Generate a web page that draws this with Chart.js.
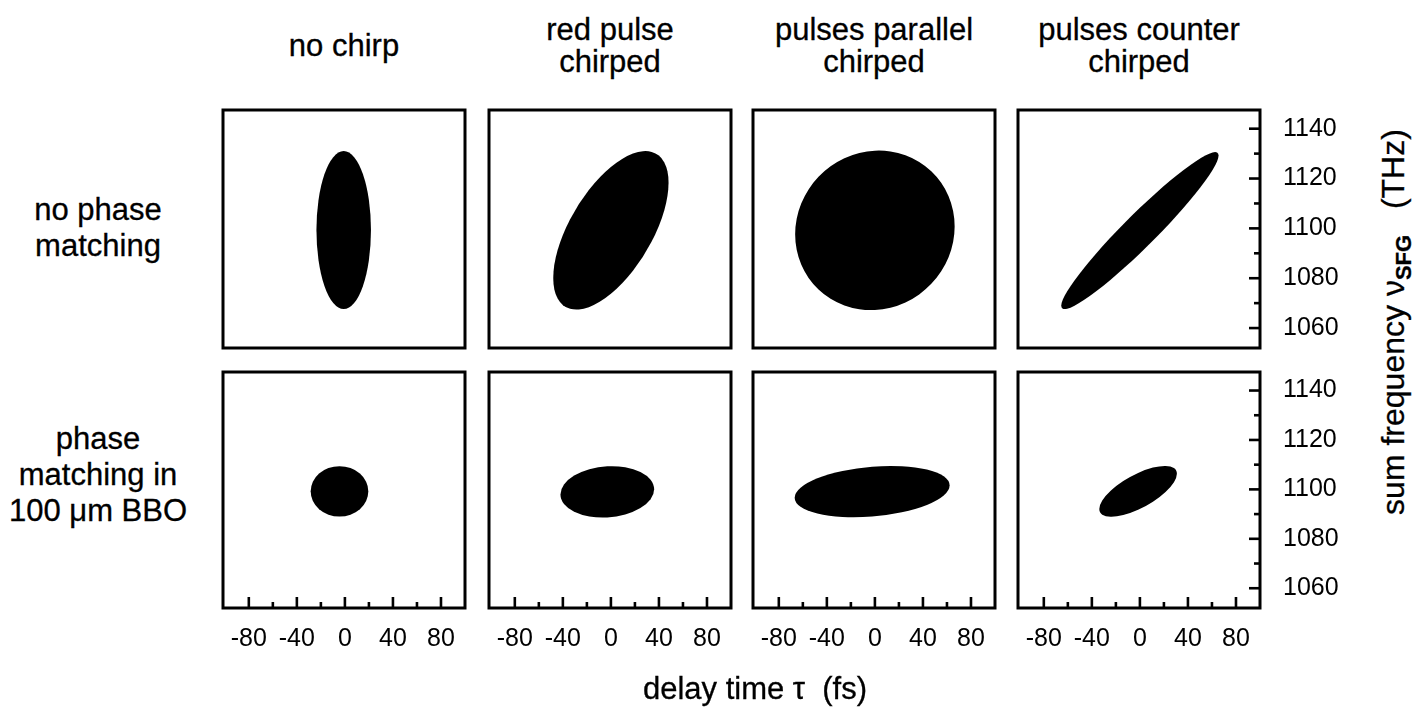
<!DOCTYPE html>
<html>
<head>
<meta charset="utf-8">
<script src="https://cdn.jsdelivr.net/npm/chart.js@4.4.1/dist/chart.umd.min.js"></script>
<style>
  html, body { margin: 0; padding: 0; background: #fff; }
  body { width: 1428px; height: 713px; position: relative; overflow: hidden;
         font-family: "Liberation Sans", Arial, Helvetica, sans-serif; color: #000; }
  canvas.panel { position: absolute; }
  .lbl { position: absolute; text-align: center; white-space: nowrap; -webkit-text-stroke: 0.3px #000; }
  .coltitle { font-size: 31px; line-height: 32px; height: 64px; width: 300px;
              display: flex; flex-direction: column; justify-content: center; }
  .rowtitle { font-size: 31px; line-height: 36px; width: 200px; }
  .axtitle { font-size: 31px; line-height: 36px; }
  .ytitle { font-size: 32px; }
  .ytitle sub { font-size: 22px; font-weight: bold; vertical-align: -7px; line-height: 0; padding-right: 8px; }
</style>
</head>
<body>
<script>
// ---- axes ----
const delayRange = [-101.5, 100];          // delay time tau (fs)
const freqRange = [1052, 1147.5];          // sum frequency (THz)
const delayLabels = [-80, -40, 0, 40, 80];
const freqLabels = [1060, 1080, 1100, 1120, 1140];
const delayStep = 20;
const freqStep = 10;

// ---- panel titles ----
const columnTitles = [['no chirp'], ['red pulse', 'chirped'], ['pulses parallel', 'chirped'], ['pulses counter', 'chirped']];
const rowTitles = [['no phase', 'matching'], ['phase', 'matching in', '100 \u03bcm BBO']];
const delayTitle = 'delay time \u03c4\u00a0\u00a0(fs)';

// ---- SFG signal contours: one row per phase-matching case, one column per chirp case ----
const centerDelay = [[-1.0, 0.0, 0.0, 0.0], [-4.5, -3.0, -2.3, -1.5]];
const centerFreq = [[1099.3, 1099.2, 1099.2, 1099.1], [1099.2, 1099.0, 1099.1, 1099.2]];
const halfDelay = [[22.7, 48.0, 66.4, 65.5], [24.0, 39.0, 64.5, 32.3]];
const halfFreq = [[31.7, 31.8, 32.0, 31.5], [10.2, 10.4, 10.4, 10.3]];
const correlation = [[0.0, 0.6, 0.05, 0.957], [0.0, 0.1, 0.24, 0.69]];

// ---- page layout ----
const colLeft = [223, 489, 753, 1018];
const boxW = 242;
const rowTop = [110, 372];
const boxH = [238, 236];
const pad = 4;
const xAxisH = 60;
const yAxisW = 90;
const font = '"Liberation Sans", Arial, Helvetica, sans-serif';

// filled contour drawn through the chart's own scales
const contourPlugin = {
  id: 'sfgContour',
  afterDatasetsDraw(chart) {
    const { ctx, scales: { x, y } } = chart;
    chart.data.datasets.forEach(ds => {
      const c = ds.contour;
      const px = x.getPixelForValue(c.delay);
      const py = y.getPixelForValue(c.freq);
      const ax = x.getPixelForValue(c.delay + c.halfDelay) - px;
      const ay = y.getPixelForValue(c.freq + c.halfFreq) - py;
      const r = c.corr, s = Math.sqrt(1 - r * r);
      ctx.save();
      ctx.transform(ax, ay * r, 0, ay * s, px, py);
      ctx.beginPath();
      ctx.arc(0, 0, 1, 0, Math.PI * 2);
      ctx.restore();
      ctx.save();
      ctx.fillStyle = '#000';
      ctx.fill();
      ctx.restore();
    });
  }
};

// frame and inward tick marks
const framePlugin = {
  id: 'sfgFrame',
  afterDraw(chart, args, opts) {
    const { ctx, chartArea: a, scales: { x, y } } = chart;
    ctx.save();
    ctx.strokeStyle = '#000';
    ctx.lineWidth = 2.6;
    ctx.lineCap = 'butt';
    if (opts.xMarks) {
      x.ticks.forEach(t => {
        if (t.value <= delayRange[0] + 2 || t.value >= delayRange[1] - 2) return;
        const p = x.getPixelForValue(t.value);
        const len = delayLabels.includes(t.value) ? 11 : 6;
        ctx.beginPath(); ctx.moveTo(p, a.bottom); ctx.lineTo(p, a.bottom - len); ctx.stroke();
      });
    }
    if (opts.yMarks) {
      y.ticks.forEach(t => {
        if (t.value <= freqRange[0] + 1 || t.value >= freqRange[1] - 1) return;
        const p = y.getPixelForValue(t.value);
        const len = freqLabels.includes(t.value) ? 11 : 6;
        ctx.beginPath(); ctx.moveTo(a.right, p); ctx.lineTo(a.right - len, p); ctx.stroke();
      });
    }
    ctx.lineWidth = 3;
    ctx.strokeRect(a.left, a.top, a.right - a.left, a.bottom - a.top);
    ctx.restore();
  }
};

// fixed axis band sizes, no extra label overflow padding
function fixScaleSize(s, size) {
  if (s.isHorizontal()) s.height = size; else s.width = size;
  s.paddingLeft = s.paddingRight = s.paddingTop = s.paddingBottom = 0;
}

function addLabel(cls, html, css) {
  const d = document.createElement('div');
  d.className = 'lbl ' + cls;
  d.innerHTML = html;
  Object.assign(d.style, css);
  document.body.appendChild(d);
  return d;
}

for (let r = 0; r < 2; r++) {
  for (let c = 0; c < 4; c++) {
    const showX = r === 1;
    const showY = c === 3;
    const w = pad + boxW + (showY ? yAxisW : 0) + pad;
    const h = pad + boxH[r] + (showX ? xAxisH : 0) + pad;
    const cv = document.createElement('canvas');
    cv.className = 'panel';
    cv.width = w; cv.height = h;
    cv.style.width = w + 'px'; cv.style.height = h + 'px';
    cv.style.left = (colLeft[c] - pad) + 'px';
    cv.style.top = (rowTop[r] - pad) + 'px';
    document.body.appendChild(cv);

    new Chart(cv, {
      type: 'scatter',
      data: {
        datasets: [{
          data: [{ x: centerDelay[r][c], y: centerFreq[r][c] }],
          pointRadius: 0,
          contour: {
            delay: centerDelay[r][c], freq: centerFreq[r][c],
            halfDelay: halfDelay[r][c], halfFreq: halfFreq[r][c],
            corr: correlation[r][c]
          }
        }]
      },
      options: {
        responsive: false,
        animation: false,
        devicePixelRatio: 1,
        layout: { padding: pad, autoPadding: false },
        events: [],
        plugins: {
          legend: { display: false },
          tooltip: { enabled: false },
          sfgFrame: { xMarks: showX, yMarks: showY }
        },
        scales: {
          x: {
            type: 'linear', position: 'bottom',
            min: delayRange[0], max: delayRange[1],
            grid: { display: false, drawTicks: false },
            border: { display: false },
            ticks: {
              display: showX, stepSize: delayStep, includeBounds: false,
              autoSkip: false, maxRotation: 0, minRotation: 0, padding: 16,
              color: '#000', font: { family: font, size: 25 },
              callback: v => delayLabels.includes(v) ? String(v) : ''
            },
            afterFit: s => fixScaleSize(s, showX ? xAxisH : 0)
          },
          y: {
            type: 'linear', position: 'right',
            min: freqRange[0], max: freqRange[1],
            grid: { display: false, drawTicks: false },
            border: { display: false },
            ticks: {
              display: showY, stepSize: freqStep, includeBounds: false,
              autoSkip: false, padding: 23,
              color: '#000', font: { family: font, size: 25 },
              callback: v => freqLabels.includes(v) ? String(v) : ''
            },
            afterFit: s => fixScaleSize(s, showY ? yAxisW : 0)
          }
        }
      },
      plugins: [contourPlugin, framePlugin]
    });
  }
}

// column titles
columnTitles.forEach((lines, c) => {
  const cx = colLeft[c] + boxW / 2;
  addLabel('coltitle', lines.map(t => '<div>' + t + '</div>').join(''),
    { left: (cx - 150) + 'px', top: '14px' });
});

// row titles
const rowLabelTop = [192, 421];
rowTitles.forEach((lines, r) => {
  addLabel('rowtitle', lines.join('<br>'), { left: '-2px', top: rowLabelTop[r] + 'px' });
});

// axis titles
addLabel('axtitle', delayTitle, { left: '555px', width: '400px', top: '671px' });
addLabel('axtitle ytitle', 'sum frequency \u03bd<sub>SFG</sub>\u00a0\u00a0(THz)',
  { left: (1393 - 230) + 'px', top: (322 - 18) + 'px', width: '460px', lineHeight: '36px', transform: 'rotate(-90deg)' });
</script>
</body>
</html>
